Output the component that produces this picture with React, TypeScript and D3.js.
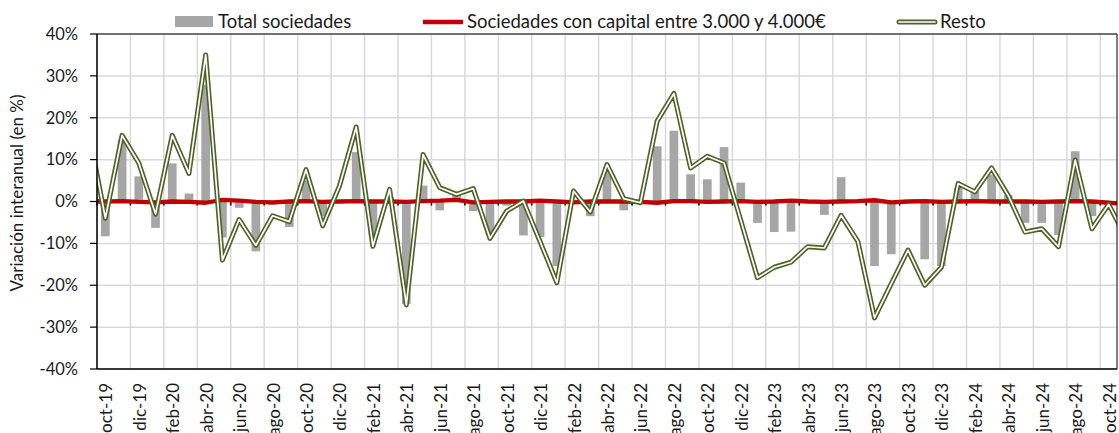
import React from "react";
import * as d3 from "d3";

// Category axis (oct-19 .. oct-24)
const months: string[] = [
  "oct-19","nov-19","dic-19","ene-20","feb-20","mar-20","abr-20","may-20","jun-20","jul-20","ago-20","sep-20",
  "oct-20","nov-20","dic-20","ene-21","feb-21","mar-21","abr-21","may-21","jun-21","jul-21","ago-21","sep-21",
  "oct-21","nov-21","dic-21","ene-22","feb-22","mar-22","abr-22","may-22","jun-22","jul-22","ago-22","sep-22",
  "oct-22","nov-22","dic-22","ene-23","feb-23","mar-23","abr-23","may-23","jun-23","jul-23","ago-23","sep-23",
  "oct-23","nov-23","dic-23","ene-24","feb-24","mar-24","abr-24","may-24","jun-24","jul-24","ago-24","sep-24",
  "oct-24",
];

// Total sociedades (bars), one value per month in `months`
const totalSociedades: number[] = [
  -8.3, 14.8, 6.0, -6.3, 9.1, 1.9, 27.9, -8.6, -1.5, -11.9, -0.8, -6.1,
  5.0, -3.5, -0.4, 11.8, -8.0, 1.0, -24.5, 3.8, -2.1, 2.0, -2.3, -8.0,
  -1.0, -8.1, -8.5, -15.4, -0.5, -3.5, 7.0, -2.1, -0.3, 13.2, 16.9, 6.5,
  5.3, 13.0, 4.5, -5.1, -7.3, -7.2, -0.3, -3.2, 5.8, -0.3, -15.4, -12.6,
  -0.3, -13.8, -15.4, 3.3, 2.5, 6.4, 1.5, -5.1, -5.1, -8.0, 12.0, -3.5,
  -0.5,
];

// Line series run from sep-19 to nov-24 (one month beyond each end, clipped by the plot area)
const lineStartIndex = -1;

const capital3000a4000: number[] = [
  0,
  0, 0.1, -0.1, -0.2, 0, -0.1, -0.3, 0.4, 0.2, -0.1, -0.2, 0,
  0.1, -0.1, 0, 0.1, 0, 0, -0.1, 0.1, 0.2, 0.4, -0.2, -0.1,
  0, 0, 0.2, 0, -0.2, 0, 0, 0, -0.1, -0.3, 0.1, 0.1,
  -0.1, 0, 0.1, -0.1, 0, 0.2, 0, -0.1, 0, 0.1, 0.3, -0.2,
  0, 0.1, -0.1, 0, 0.1, 0, 0, 0, -0.1, 0, 0.1, 0,
  -0.3,
  -0.6,
];

const resto: number[] = [
  17,
  -4, 15.8, 9.2, -3, 15.8, 6.7, 35, -14, -4.3, -10.5, -3.4, -4.8,
  7.6, -5.8, 3.7, 17.8, -10.7, 2.9, -24.7, 11.2, 3.3, 1.7, 3.1, -8.8,
  -2.3, 0.1, -9.6, -19.4, 2.5, -2.5, 8.8, 0.7, -0.3, 19.2, 25.8, 8.0,
  10.8, 9.2, -4.5, -18.2, -15.7, -14.5, -10.8, -11.1, -3.3, -9.5, -27.8, -19.6,
  -11.6, -20.0, -15.7, 4.3, 2.3, 8.0, 1.4, -7.3, -6.5, -10.8, 9.9, -6.5,
  -0.7,
  -8.3,
];

const yTicks: number[] = [40, 30, 20, 10, 0, -10, -20, -30, -40];

const legendLabels: string[] = [
  "Total sociedades",
  "Sociedades con capital entre 3.000 y 4.000€",
  "Resto",
];

const W = 1119;
const H = 433;
const L = 97;
const R = 1117;
const T = 34;
const B = 369;
const FONT = "Lato, 'Open Sans', sans-serif";
const GREEN = "#4f6228";
const RED = "#c00000";
const GREY = "#a6a6a6";
const INK = "#1a1a1a";

export default function App() {
  const x = d3.scaleLinear().domain([-0.5, months.length - 0.5]).range([L, R]);
  const y = d3.scaleLinear().domain([-40, 40]).range([B, T]);
  const step = x(1) - x(0);
  const barW = step * 0.52;

  const line = d3
    .line<number>()
    .x((_, i) => x(i + lineStartIndex))
    .y((d) => y(d));

  const boundaries = d3.range(0, months.length + 1, 2).map((i) => x(i - 0.5));

  return (
    <svg width={W} height={H} style={{ display: "block", position: "absolute", left: 0, top: 0 }}>
      <defs>
        <clipPath id="plot">
          <rect x={L} y={T} width={R - L} height={B - T} />
        </clipPath>
      </defs>
      <rect x={0} y={0} width={W} height={H} fill="#fff" />
      {/* gridlines */}
      {yTicks.map((t) => (
        <line key={"h" + t} x1={L} x2={R} y1={y(t)} y2={y(t)} stroke="#d9d9d9" strokeWidth={1.5} />
      ))}
      {boundaries.map((bx, i) => (
        <line key={"v" + i} x1={bx} x2={bx} y1={T} y2={B} stroke="#d9d9d9" strokeWidth={1.5} />
      ))}
      {/* bars */}
      <g clipPath="url(#plot)">
        {totalSociedades.map((v, i) => (
          <rect
            key={"b" + i}
            x={x(i) - barW / 2}
            width={barW}
            y={Math.min(y(v), y(0))}
            height={Math.abs(y(v) - y(0))}
            fill={GREY}
          />
        ))}
      </g>
      {/* category tick marks on zero line */}
      {boundaries.map((bx, i) => (
        <line key={"t" + i} x1={bx} x2={bx} y1={y(0)} y2={y(0) + 4} stroke="#000" strokeWidth={1.5} />
      ))}
      <g clipPath="url(#plot)">
        <path d={line(capital3000a4000) || ""} fill="none" stroke={RED} strokeWidth={4.3} strokeLinejoin="round" />
        <path d={line(resto) || ""} fill="none" stroke={GREEN} strokeWidth={5} strokeLinejoin="round" />
        <path d={line(resto) || ""} fill="none" stroke="#fff" strokeWidth={1.7} strokeLinejoin="round" />
      </g>
      {/* plot frame */}
      <line x1={L} x2={R} y1={T} y2={T} stroke="#000" strokeWidth={1} />
      <line x1={R} x2={R} y1={T} y2={B} stroke="#000" strokeWidth={1} />
      <line x1={L} x2={R} y1={B} y2={B} stroke="#000" strokeWidth={1.5} />
      <line x1={L} x2={L} y1={T} y2={B} stroke="#000" strokeWidth={1.5} />
      {/* y axis ticks & labels */}
      {yTicks.map((t) => (
        <g key={"yl" + t}>
          <line x1={L - 7} x2={L} y1={y(t)} y2={y(t)} stroke="#000" strokeWidth={1.2} />
          <text x={78} y={y(t)} dy="0.35em" textAnchor="end" fontFamily={FONT} fontSize={16.5} fill={INK}>
            {t + "%"}
          </text>
        </g>
      ))}
      <text
        transform={`translate(17,193) rotate(-90)`}
        textAnchor="middle"
        dy="0.35em"
        fontFamily={FONT}
        fontSize={17}
        fill={INK}
      >
        Variación interanual (en %)
      </text>
      {/* x labels */}
      {months.map((m, i) =>
        i % 2 === 0 ? (
          <text
            key={"xl" + i}
            transform={`translate(${x(i) + 1},383) rotate(-90)`}
            textAnchor="end"
            dy="0.35em"
            fontFamily={FONT}
            fontSize={17}
            fill={INK}
          >
            {m}
          </text>
        ) : null
      )}
      {/* legend */}
      <g fontFamily={FONT} fontSize={18.5} fill={INK}>
        <rect x={175} y={16} width={38} height={11} fill={GREY} />
        <text x={218} y={22} dy="0.35em">{legendLabels[0]}</text>
        <line x1={423} x2={463} y1={22} y2={22} stroke={RED} strokeWidth={4.3} />
        <text x={467} y={22} dy="0.35em">{legendLabels[1]}</text>
        <line x1={899} x2={935} y1={22} y2={22} stroke={GREEN} strokeWidth={5} strokeLinecap="round" />
        <line x1={899} x2={935} y1={22} y2={22} stroke="#fff" strokeWidth={1.7} strokeLinecap="round" />
        <text x={940} y={22} dy="0.35em">{legendLabels[2]}</text>
      </g>
    </svg>
  );
}
